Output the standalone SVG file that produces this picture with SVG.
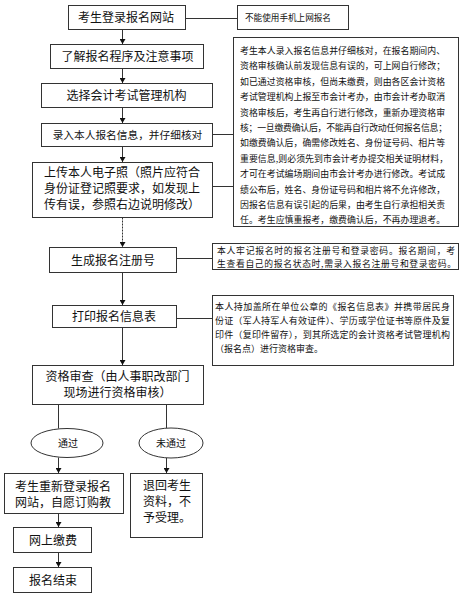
<svg xmlns="http://www.w3.org/2000/svg" width="460" height="598" viewBox="0 0 460 598">
<style>
.b{fill:#fff;stroke:#333;stroke-width:1}
.t{font-family:"Noto Sans CJK SC","Noto Sans",sans-serif;fill:#111}
.m{font-size:12px;text-anchor:middle}
.ml{font-size:12px}
.s{font-size:8.9px}
.c{stroke:#333;stroke-width:1;fill:none}
</style>
<defs>
<marker id="ah" markerUnits="userSpaceOnUse" markerWidth="6" markerHeight="6" refX="5" refY="3" orient="auto">
<path d="M0,0 L5,3 L0,6 z" fill="#111"/>
</marker>
</defs>
<rect width="460" height="598" fill="#fff"/>
<g id="connectors">
<line class="c" x1="185.5" y1="18.5" x2="237.5" y2="18.5"/>
<line class="c" x1="122.5" y1="29.5" x2="122.5" y2="44" marker-end="url(#ah)"/>
<line class="c" x1="122.5" y1="68.5" x2="122.5" y2="83" marker-end="url(#ah)"/>
<line class="c" x1="122.5" y1="107.5" x2="122.5" y2="123" marker-end="url(#ah)"/>
<line class="c" x1="212.5" y1="134.5" x2="233.5" y2="134.5"/>
<line class="c" x1="122.5" y1="146.5" x2="122.5" y2="162" marker-end="url(#ah)"/>
<line class="c" x1="212.5" y1="186.5" x2="233.5" y2="186.5"/>
<line class="c" x1="122.5" y1="217.5" x2="122.5" y2="247" stroke-dasharray="2 1" marker-end="url(#ah)"/>
<line class="c" x1="176.5" y1="258.5" x2="212.5" y2="258.5"/>
<line class="c" x1="122.5" y1="272.5" x2="122.5" y2="305" marker-end="url(#ah)"/>
<line class="c" x1="176.5" y1="318.5" x2="212.5" y2="318.5"/>
<line class="c" x1="122.5" y1="327.5" x2="122.5" y2="365" marker-end="url(#ah)"/>
<line class="c" x1="58.5" y1="404.5" x2="58.5" y2="428.5"/>
<line class="c" x1="166.5" y1="404.5" x2="166.5" y2="428"/>
<line class="c" x1="58.5" y1="457.5" x2="58.5" y2="473" marker-end="url(#ah)"/>
<line class="c" x1="166.5" y1="458" x2="166.5" y2="473" marker-end="url(#ah)"/>
<line class="c" x1="58.5" y1="513.5" x2="58.5" y2="527" marker-end="url(#ah)"/>
<line class="c" x1="58.5" y1="552.5" x2="58.5" y2="567" marker-end="url(#ah)"/>
</g>
<g id="n1"><rect class="b" x="68.5" y="5.5" width="117" height="24"/><text class="t m" x="126" y="22">考生登录报名网站</text></g>
<g id="note0"><rect class="b" x="237.5" y="5.5" width="111" height="24"/><text class="t" x="245" y="21" font-size="8.6px">不能使用手机上网报名</text></g>
<g id="n2"><rect class="b" x="50.5" y="44.5" width="153" height="24"/><text class="t m" x="127.5" y="61">了解报名程序及注意事项</text></g>
<g id="n3"><rect class="b" x="41.5" y="83.5" width="171" height="24"/><text class="t m" x="126.5" y="100">选择会计考试管理机构</text></g>
<g id="n4"><rect class="b" x="41.5" y="123.5" width="171" height="23"/><text class="t" x="127.5" y="139" font-size="10.7px" text-anchor="middle">录入本人报名信息，并仔细核对</text></g>
<g id="note1"><rect class="b" x="233.5" y="37.5" width="225" height="189"/>
<text class="t s">
<tspan x="240" y="54" textLength="205" lengthAdjust="spacing">考生本人录入报名信息并仔细核对，在报名期间内、</tspan>
<tspan x="240" y="69.4" textLength="205" lengthAdjust="spacing">资格审核确认前发现信息有误的，可上网自行修改；</tspan>
<tspan x="240" y="84.8" textLength="205" lengthAdjust="spacing">如已通过资格审核，但尚未缴费，则由各区会计资格</tspan>
<tspan x="240" y="100.2" textLength="205" lengthAdjust="spacing">考试管理机构上报至市会计考办，由市会计考办取消</tspan>
<tspan x="240" y="115.6" textLength="205" lengthAdjust="spacing">资格审核后，考生再自行进行修改，重新办理资格审</tspan>
<tspan x="240" y="131" textLength="207" lengthAdjust="spacing">核；一旦缴费确认后，不能再自行改动任何报名信息；</tspan>
<tspan x="240" y="146.4" textLength="205" lengthAdjust="spacing">如缴费确认后，确需修改姓名、身份证号码、相片等</tspan>
<tspan x="240" y="161.8" textLength="208" lengthAdjust="spacing">重要信息,则必须先到市会计考办提交相关证明材料，</tspan>
<tspan x="240" y="177.2" textLength="205" lengthAdjust="spacing">才可在考试编场期间由市会计考办进行修改。考试成</tspan>
<tspan x="240" y="192.6" textLength="205" lengthAdjust="spacing">绩公布后，姓名、身份证号码和相片将不允许修改，</tspan>
<tspan x="240" y="208" textLength="205" lengthAdjust="spacing">因报名信息有误引起的后果，由考生自行承担相关责</tspan>
<tspan x="240" y="223.4" textLength="205" lengthAdjust="spacing">任。考生应慎重报考，缴费确认后，不再办理退考。</tspan>
</text></g>
<g id="n5"><rect class="b" x="32.5" y="162.5" width="180" height="55"/>
<text class="t ml"><tspan x="44" y="177">上传本人电子照（照片应符合</tspan><tspan x="44" y="193">身份证登记照要求，如发现上</tspan><tspan x="44" y="209">传有误，参照右边说明修改）</tspan></text></g>
<g id="n6"><rect class="b" x="49.5" y="247.5" width="127" height="25"/><text class="t m" x="113" y="264.5">生成报名注册号</text></g>
<g id="note2"><rect class="b" x="212.5" y="243.5" width="246" height="26"/>
<text class="t" font-size="8.8px"><tspan x="217" y="253.6" textLength="238" lengthAdjust="spacing">本人牢记报名时的报名注册号和登录密码。报名期间，考</tspan><tspan x="217" y="266.5" textLength="239" lengthAdjust="spacing">生查看自己的报名状态时,需录入报名注册号和登录密码。</tspan></text></g>
<g id="n7"><rect class="b" x="52.5" y="305.5" width="124" height="22"/><text class="t m" x="114" y="321">打印报名信息表</text></g>
<g id="note3"><rect class="b" x="212.5" y="295.5" width="241" height="70"/>
<text class="t" font-size="9px"><tspan x="215" y="309.5" textLength="235" lengthAdjust="spacing">本人持加盖所在单位公章的《报名信息表》并携带居民身</tspan><tspan x="215" y="323.5" textLength="235" lengthAdjust="spacing">份证（军人持军人有效证件）、学历或学位证书等原件及复</tspan><tspan x="215" y="337.5" textLength="235" lengthAdjust="spacing">印件（复印件留存），到其所选定的会计资格考试管理机构</tspan><tspan x="215" y="351.5">（报名点）进行资格审查。</tspan></text></g>
<g id="n8"><rect class="b" x="32.5" y="365.5" width="171" height="39"/>
<text class="t m"><tspan x="117.5" y="381">资格审查（由人事职改部门</tspan><tspan x="117.5" y="397">现场进行资格审核）</tspan></text></g>
<g id="pass"><ellipse class="b" cx="67" cy="443" rx="36" ry="14.5"/><text class="t" x="68" y="446.8" font-size="10px" text-anchor="middle">通过</text></g>
<g id="fail"><ellipse class="b" cx="171" cy="443" rx="32" ry="15"/><text class="t" x="171" y="446.8" font-size="10px" text-anchor="middle">未通过</text></g>
<g id="n9"><rect class="b" x="4.5" y="473.5" width="119" height="40"/>
<text class="t m"><tspan x="63" y="490.5">考生重新登录报名</tspan><tspan x="63" y="506.5">网站，自愿订购教</tspan></text></g>
<g id="n10"><rect class="b" x="130.5" y="473.5" width="72" height="64"/>
<text class="t ml"><tspan x="143" y="489.5">退回考生</tspan><tspan x="143" y="505.5">资料，不</tspan><tspan x="143" y="521.5">予受理。</tspan></text></g>
<g id="n11"><rect class="b" x="13.5" y="527.5" width="78" height="25"/><text class="t m" x="53" y="544.5">网上缴费</text></g>
<g id="n12"><rect class="b" x="13.5" y="567.5" width="78" height="25"/><text class="t m" x="53" y="584.5">报名结束</text></g>
</svg>
